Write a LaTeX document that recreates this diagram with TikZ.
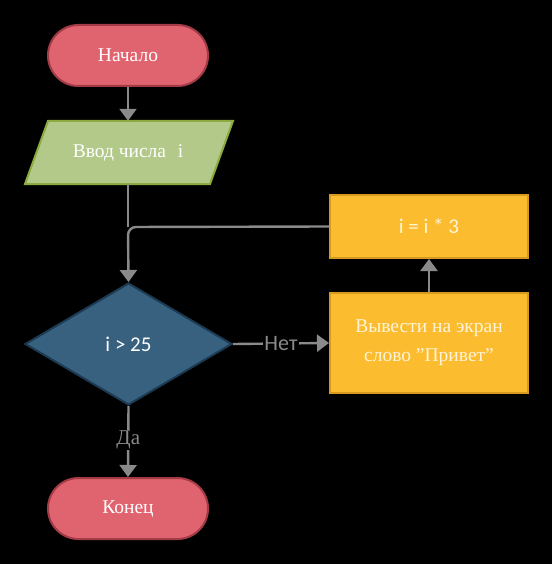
\documentclass[tikz,border=0pt]{standalone}
\usepackage{fontspec}
\setmainfont{Liberation Serif}
\newfontfamily\labsans{Carlito}
\usetikzlibrary{shapes.geometric,shapes.misc,arrows.meta}
\definecolor{redfill}{HTML}{E0646F}
\definecolor{redline}{HTML}{A33B47}
\definecolor{grnfill}{HTML}{B3C98A}
\definecolor{grnline}{HTML}{8BAA3F}
\definecolor{bluefill}{HTML}{386180}
\definecolor{blueline}{HTML}{1C3B52}
\definecolor{yelfill}{HTML}{FBBC30}
\definecolor{yelline}{HTML}{D69A1E}
\definecolor{conn}{HTML}{8A8A8A}
\definecolor{cream}{HTML}{FFF4D6}
\tikzset{
  term/.style={rounded rectangle, draw=redline, fill=redfill, line width=2pt, minimum width=160pt, minimum height=61pt, inner sep=0pt, text=white, font=\fontsize{19.5}{22}\selectfont},
  procbox/.style={rectangle, draw=yelline, fill=yelfill, line width=2pt, minimum width=198pt, inner sep=0pt, text=cream, align=center},
  decis/.style={diamond, draw=blueline, fill=bluefill, line width=2pt, minimum width=207pt, minimum height=122pt, aspect=1.7, inner sep=0pt, text=white, font=\labsans\fontsize{21}{24}\selectfont},
  conline/.style={draw=conn, line width=2.4pt},
  arr/.style={conline, -{Triangle[width=17pt,length=12pt]}},
  lbl/.style={fill=black, text=conn, inner sep=1pt}
}
\begin{document}
\begin{tikzpicture}[x=1pt,y=-1pt]
\fill[black] (0,0) rectangle (552,564);
\useasboundingbox (0,0) rectangle (552,564);
% nodes
\node[term] (start) at (128,55.5) {Начало};
\fill[grnfill] (48,121) -- (233,121) -- (210,184) -- (25,184) -- cycle;
\draw[grnline, line width=2pt] (48,121) -- (233,121) -- (210,184) -- (25,184) -- cycle;
\node[minimum width=185pt, minimum height=63pt, inner sep=0pt, text=white, font=\fontsize{19.5}{22}\selectfont] (inp) at (128,152.5) {Ввод числа\hspace{0.6em}i};
\node[decis] (dec) at (128.5,344) {i > 25};
\node[procbox, minimum height=63pt, font=\labsans\fontsize{21}{24}\selectfont] (mul) at (429,226.5) {i = i * 3};
\node[procbox, minimum height=100pt, font=\fontsize{19.5}{29}\selectfont] (out) at (429,343) {Вывести на экран\\слово \symbol{34}Привет\symbol{34}};
\node[term] (end) at (128,508.5) {Конец};
\coordinate (j) at (128,227);
% connectors
\draw[arr] (start.south) -- (inp.north);
\draw[conline] (inp.south) -- (j);
\draw[arr, rounded corners=8pt] (mul.west) -- (j) -- (dec.north);
\draw[arr] (out.north) -- (mul.south);
\draw[arr] (dec.east) -- node[lbl, font=\labsans\fontsize{22}{24}\selectfont] {Нет} (out.west);
\draw[arr] (dec.south) -- node[lbl, font=\fontsize{21}{24}\selectfont, pos=0.48] {Да} (end.north);
\end{tikzpicture}
\end{document}
